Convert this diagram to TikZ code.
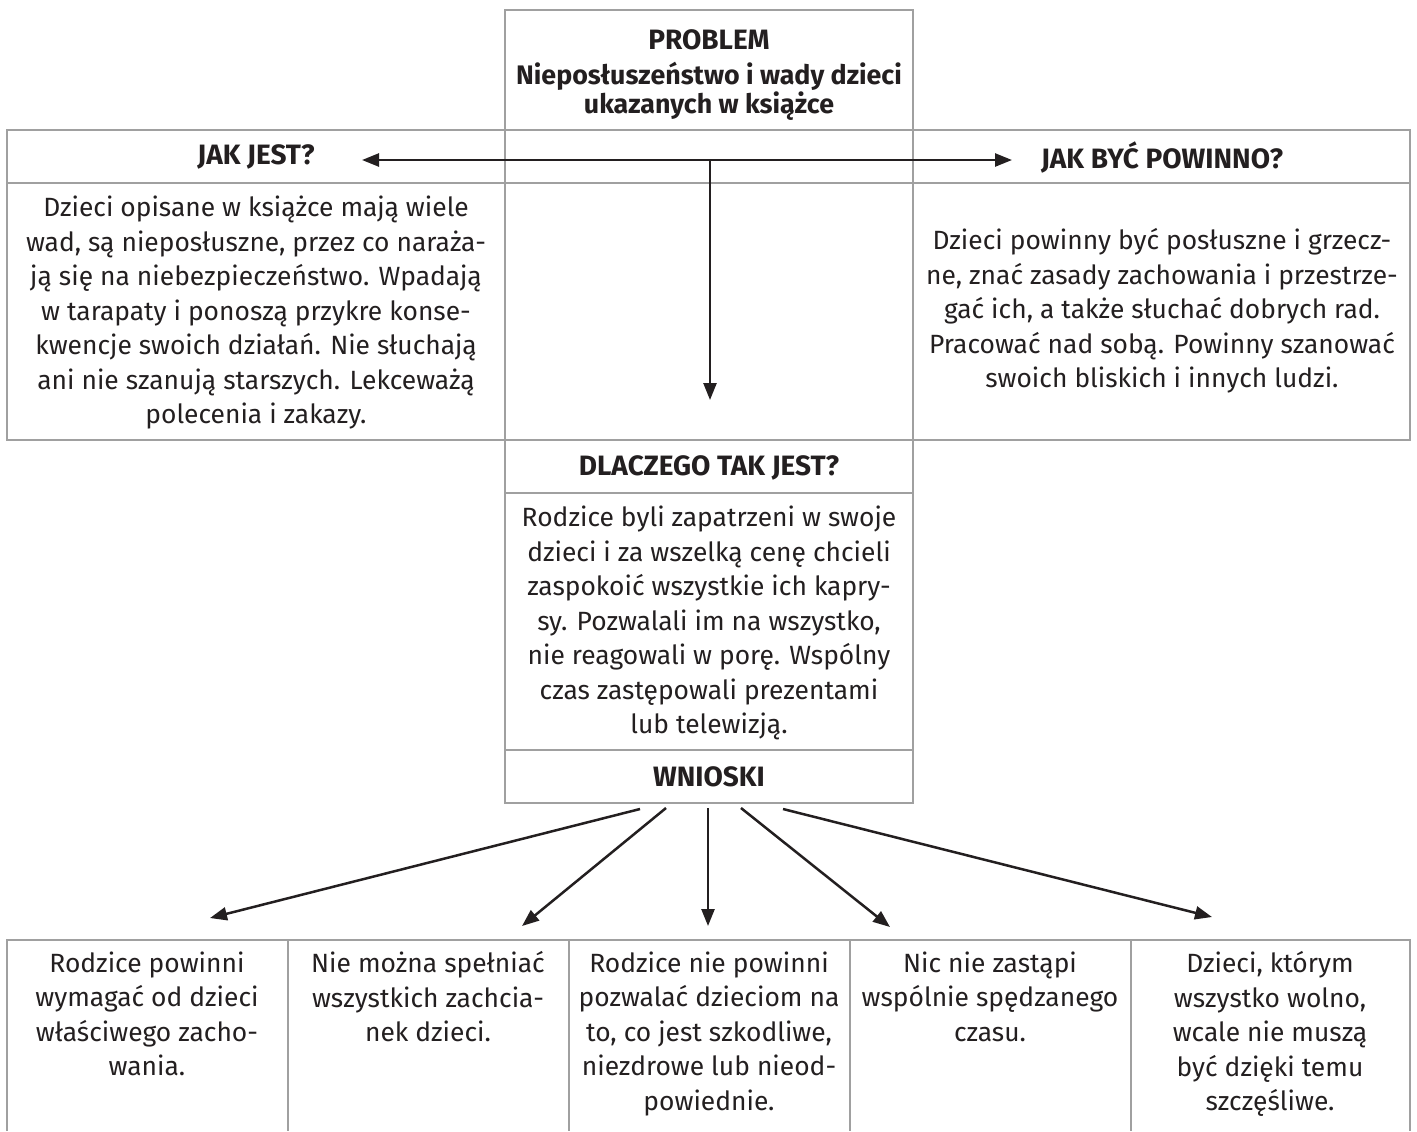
\documentclass[tikz,border=0pt]{standalone}
\usepackage{fontspec}
\setmainfont{Fira Sans}
\usetikzlibrary{arrows.meta}
\definecolor{gridgray}{HTML}{A0A0A0}
\definecolor{ink}{HTML}{231F20}
\tikzset{
  grid/.style={draw=gridgray, line width=0.75pt},
  body/.style={align=center, inner sep=0pt, text=ink, font=\fontsize{13.2}{17.25}\selectfont},
  head/.style={align=center, inner sep=0pt, text=ink, font=\fontsize{14}{14.5}\selectfont\bfseries},
  titl/.style={align=center, inner sep=0pt, text=ink, font=\fontsize{13.4}{14.5}\selectfont\bfseries},
  arr/.style={draw=ink, line width=1.25pt, -{Triangle[length=8.5pt,width=6.5pt]}}
}
\begin{document}
\begin{tikzpicture}[x=0.5pt,y=-0.5pt]
\useasboundingbox (0,0) rectangle (1417,1131);
% grid
\draw[grid] (505,10) rectangle (913,803);
\draw[grid] (7,130) rectangle (1410,440);
\draw[grid] (7,183) -- (1410,183);
\draw[grid] (505,493) -- (913,493);
\draw[grid] (505,750) -- (913,750);
\draw[grid] (7,1131) -- (7,940) -- (1410,940) -- (1410,1131);
\foreach \xx in {288,569,850,1131} \draw[grid] (\xx,940) -- (\xx,1131);
% texts
\node[head] (problem) at (709,40) {PROBLEM};
\node[titl] (title) at (709,91) {Nieposłuszeństwo i wady dzieci\\ukazanych w książce};
\node[head] (jakjest) at (256,157) {JAK JEST?};
\node[head] (jakbyc) at (1162,157) {JAK BYĆ POWINNO?};
\node[head] (dlaczego) at (709,468) {DLACZEGO TAK JEST?};
\node[head] (wnioski) at (709,777) {WNIOSKI};
\node[body] (left) at (256,313) {Dzieci opisane w książce mają wiele\\wad, są nieposłuszne, przez co naraża-\\ją się na niebezpieczeństwo. Wpadają\\w tarapaty i ponoszą przykre konse-\\kwencje swoich działań. Nie słuchają\\ani nie szanują starszych. Lekceważą\\polecenia i zakazy.};
\node[body] (right) at (1162,311) {Dzieci powinny być posłuszne i grzecz-\\ne, znać zasady zachowania i przestrze-\\gać ich, a także słuchać dobrych rad.\\Pracować nad sobą. Powinny szanować\\swoich bliskich i innych ludzi.};
\node[body] (center) at (709,623) {Rodzice byli zapatrzeni w swoje\\dzieci i za wszelką cenę chcieli\\zaspokoić wszystkie ich kapry-\\sy. Pozwalali im na wszystko,\\nie reagowali w porę. Wspólny\\czas zastępowali prezentami\\lub telewizją.};
\node[body, anchor=north] (b1) at (147,951) {Rodzice powinni\\wymagać od dzieci\\właściwego zacho-\\wania.};
\node[body, anchor=north] (b2) at (428,951) {Nie można spełniać\\wszystkich zachcia-\\nek dzieci.};
\node[body, anchor=north] (b3) at (709,951) {Rodzice nie powinni\\pozwalać dzieciom na\\to, co jest szkodliwe,\\niezdrowe lub nieod-\\powiednie.};
\node[body, anchor=north] (b4) at (990,951) {Nic nie zastąpi\\wspólnie spędzanego\\czasu.};
\node[body, anchor=north] (b5) at (1270,951) {Dzieci, którym\\wszystko wolno,\\wcale nie muszą\\być dzięki temu\\szczęśliwe.};
% arrows
\coordinate (hub) at (710,160);
\coordinate (tipL) at (362,160);
\coordinate (tipR) at (1012,160);
\coordinate (tipD) at (710,400);
\draw[arr] (hub) -- (tipL);
\draw[arr] (hub) -- (tipR);
\draw[arr] (hub) -- (tipD);
\coordinate (s1) at (640,809); \coordinate (e1) at (210,918);
\coordinate (s2) at (666,808); \coordinate (e2) at (522,926);
\coordinate (s3) at (708,808); \coordinate (e3) at (708,926);
\coordinate (s4) at (741,808); \coordinate (e4) at (890,927);
\coordinate (s5) at (783,809); \coordinate (e5) at (1212,917);
\foreach \i in {1,...,5} \draw[arr] (s\i) -- (e\i);
\end{tikzpicture}
\end{document}
